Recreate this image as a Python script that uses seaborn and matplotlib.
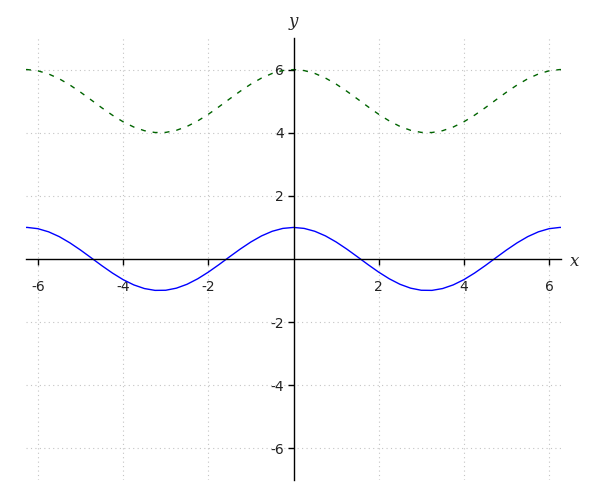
import seaborn as sns
import matplotlib.pyplot as plt
import pandas as pd

# Points (x, lower blue curve, upper green dashed curve)
x_vals = [-6.28, -6.25, -6.0, -5.75, -5.5, -5.25, -5.0, -4.75, -4.5, -4.25, -4.0,
          -3.75, -3.5, -3.25, -3.0, -2.75, -2.5, -2.25, -2.0, -1.75, -1.5, -1.25,
          -1.0, -0.75, -0.5, -0.25, 0.0, 0.25, 0.5, 0.75, 1.0, 1.25, 1.5, 1.75,
          2.0, 2.25, 2.5, 2.75, 3.0, 3.25, 3.5, 3.75, 4.0, 4.25, 4.5, 4.75, 5.0,
          5.25, 5.5, 5.75, 6.0, 6.25, 6.28]
blue_vals = [1.00, 1.00, 0.96, 0.861, 0.709, 0.512, 0.284, 0.038, -0.211, -0.446, -0.654,
             -0.820, -0.936, -0.994, -0.990, -0.924, -0.801, -0.628, -0.416, -0.178, 0.071, 0.315,
             0.540, 0.732, 0.878, 0.969, 1.00, 0.969, 0.878, 0.732, 0.540, 0.315, 0.071, -0.178,
             -0.416, -0.628, -0.801, -0.924, -0.990, -0.994, -0.936, -0.820, -0.654, -0.446, -0.211, 0.038, 0.284,
             0.512, 0.709, 0.861, 0.96, 1.00, 1.00]
green_vals = [6.00, 6.00, 5.96, 5.861, 5.709, 5.512, 5.284, 5.038, 4.789, 4.554, 4.346,
              4.180, 4.064, 4.006, 4.010, 4.076, 4.199, 4.372, 4.584, 4.822, 5.071, 5.315,
              5.540, 5.732, 5.878, 5.969, 6.00, 5.969, 5.878, 5.732, 5.540, 5.315, 5.071, 4.822,
              4.584, 4.372, 4.199, 4.076, 4.010, 4.006, 4.064, 4.180, 4.346, 4.554, 4.789, 5.038, 5.284,
              5.512, 5.709, 5.861, 5.96, 6.00, 6.00]
x_ticks = [-6, -4, -2, 2, 4, 6]
y_ticks = [-6, -4, -2, 2, 4, 6]

df = pd.DataFrame({'x': x_vals, 'blue': blue_vals, 'green': green_vals})

sns.set_style("white")
plt.rcParams['font.family'] = ['DejaVu Sans']
plt.rcParams['axes.unicode_minus'] = False

fig = plt.figure(figsize=(6, 5), dpi=100)
ax = fig.add_axes([26 / 600, 20 / 500, 535 / 600, 442 / 500])

sns.lineplot(data=df, x='x', y='blue', sort=False, color='blue', linewidth=1, ax=ax)
sns.lineplot(data=df, x='x', y='green', sort=False, color='darkgreen', linewidth=1,
             linestyle=(0, (3.6, 5)), ax=ax)

ax.set_xlim(-6.28, 6.28)
ax.set_ylim(-7, 7)
ax.set_xticks(x_ticks)
ax.set_yticks(y_ticks)
ax.set_xlabel('')
ax.set_ylabel('')

# axes through the origin
ax.spines['left'].set_position(('data', 0))
ax.spines['bottom'].set_position(('data', 0))
ax.spines['right'].set_visible(False)
ax.spines['top'].set_visible(False)
for s in ['left', 'bottom']:
    ax.spines[s].set_color('black')
    ax.spines[s].set_linewidth(1)

ax.tick_params(axis='both', bottom=True, left=True, direction='out', length=4,
               width=1, color='black', labelsize=10, labelcolor='#222222')
ax.tick_params(axis='x', pad=11)
ax.tick_params(axis='y', pad=3)

ax.grid(True, color='#c4c4c4', linestyle=(0, (1, 3)), linewidth=0.8)
ax.set_axisbelow(True)

ax.text(575, 500 - 261, 'x', transform=None, fontsize=12, style='italic',
        family='DejaVu Serif', ha='center', va='center')
ax.text(293, 500 - 22, 'y', transform=None, fontsize=12, style='italic',
        family='DejaVu Serif', ha='center', va='center')

fig.savefig('out.png', dpi=100)
